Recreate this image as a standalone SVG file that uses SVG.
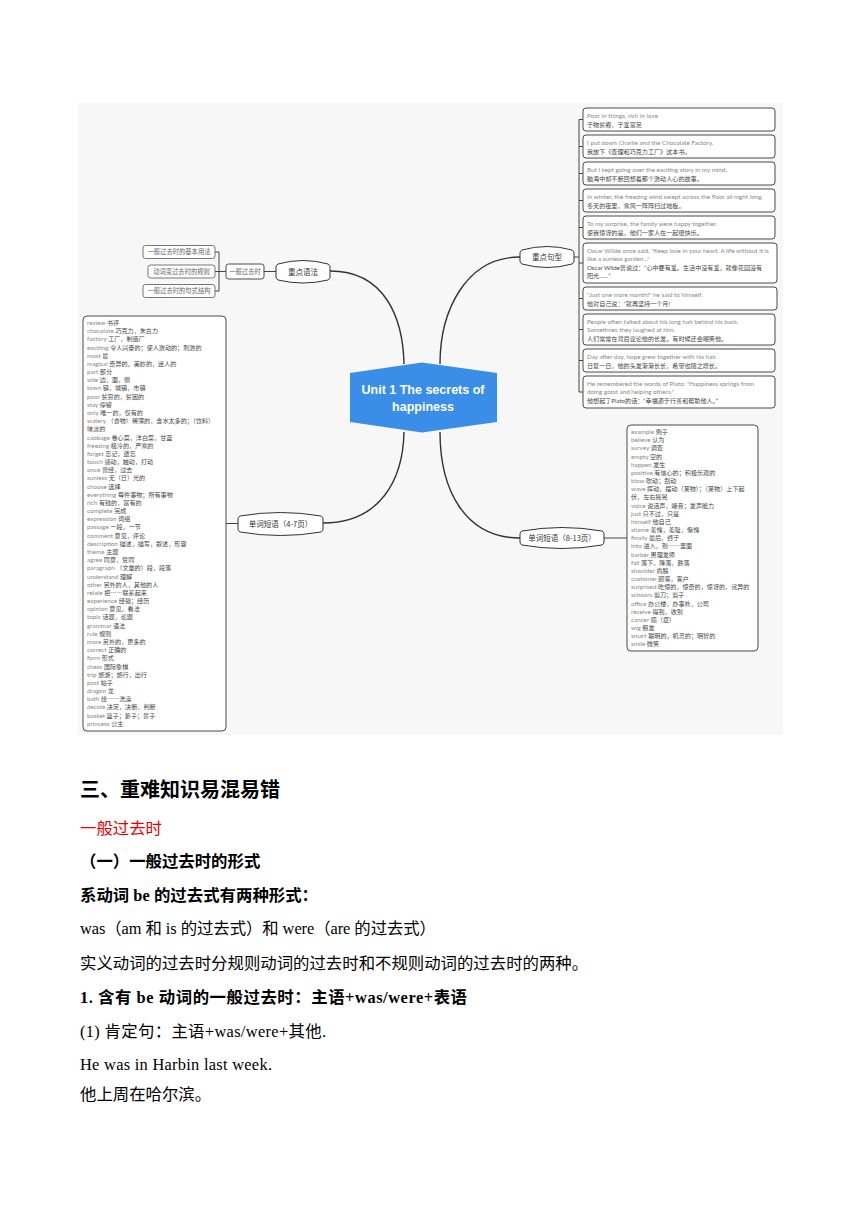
<svg xmlns="http://www.w3.org/2000/svg" width="860" height="1216" viewBox="0 0 860 1216">
<style>
.bg{fill:#f7f7f7}
.box{fill:#fff;stroke:#4a4a4a;stroke-width:1}
.sbox{fill:#fff;stroke:#666;stroke-width:0.9}
.lens{fill:#fff;stroke:#333;stroke-width:1}
.curve{fill:none;stroke:#333;stroke-width:1.4}
.br{fill:none;stroke:#444;stroke-width:1}
.en{font-family:Lato,"Noto Sans","Noto Sans CJK SC",sans-serif;font-size:6.3px;fill:#888}
.zh{font-family:Lato,"Noto Sans CJK SC",sans-serif;font-size:6.1px;fill:#444}
.z{font-family:"Noto Sans CJK SC",sans-serif;font-size:6.1px;fill:#444}
.lt{font-family:"Noto Sans CJK SC",sans-serif;font-size:7.5px;fill:#333;text-anchor:middle}
.st{font-family:"Noto Sans CJK SC",sans-serif;font-size:6.3px;fill:#666;text-anchor:middle}
.ct{font-family:"Liberation Sans",Arial,sans-serif;font-size:12.5px;font-weight:bold;fill:#fff;text-anchor:middle}
.doc{font-family:"Liberation Serif","Noto Sans CJK SC",serif;font-size:16.4px;fill:#000}
.b{font-weight:bold}
.h{font-size:20px}
.red{fill:#e60000}
</style>
<rect class="bg" x="78" y="103" width="705" height="632"/>
<g id="connectors">
<path class="curve" d="M330,271 C385,271 403,318 404,364"/>
<path class="curve" d="M520,257 C465,257 440,312 440,364"/>
<path class="curve" d="M323,523 C380,523 403,480 404,432"/>
<path class="curve" d="M520,538 C465,538 440,490 440,432"/>
<path class="br" d="M264,271.5 L276,271.5"/>
<path class="br" d="M226,271.5 L219,271.5 M219,252 L219,291 M215,252 L219,252 M215,271.5 L219,271.5 M215,291 L219,291"/>
<path class="br" d="M574,257 L579,257 M579,119.5 L579,392 M579,119.5 L583,119.5 M579,146.5 L583,146.5 M579,173.5 L583,173.5 M579,200.5 L583,200.5 M579,227.5 L583,227.5 M579,263 L583,263 M579,298.5 L583,298.5 M579,329.5 L583,329.5 M579,360.5 L583,360.5 M579,392 L583,392"/>
<path class="br" d="M226,523.5 L238,523.5"/>
<path class="br" d="M604,538 L627,538"/>
</g>
<g id="center">
<path d="M350,373 L422,362.5 L497,373 L497,422 L422,432.5 L350,422 Z" fill="#3a8ee8"/>
<text class="ct" x="423" y="393.5">Unit 1 The secrets of</text>
<text class="ct" x="423" y="410.5">happiness</text>
</g>
<g id="node-grammar">
<path class="lens" d="M278,264 Q303,257 328,264 Q330,265 330,267 L330,277 Q330,279 328,280 Q303,286 278,280 Q276,279 276,277 L276,267 Q276,265 278,264 Z"/>
<text class="lt" x="303" y="274.5">重点语法</text>
</g>
<g id="node-past">
<rect class="box" x="226" y="264" width="38" height="15" rx="2.5"/>
<text class="st" x="245" y="273.8">一般过去时</text>
</g>
<g id="node-g1">
<rect class="sbox" x="143" y="245.5" width="72" height="13" rx="2.5"/>
<text class="st" x="179" y="254.3">一般过去时的基本用法</text>
</g>
<g id="node-g2">
<rect class="sbox" x="148" y="265" width="67" height="13" rx="2.5"/>
<text class="st" x="181.5" y="273.8">动词变过去时的规则</text>
</g>
<g id="node-g3">
<rect class="sbox" x="143" y="284.5" width="72" height="13" rx="2.5"/>
<text class="st" x="179" y="293.3">一般过去时的句式结构</text>
</g>
<g id="node-sentences">
<path class="lens" d="M522,250 Q547,243 572,250 Q574,251 574,253 L574,261 Q574,263 572,264 Q547,271 522,264 Q520,263 520,261 L520,253 Q520,251 522,250 Z"/>
<text class="lt" x="547" y="260">重点句型</text>
</g>
<g id="s1"><rect class="box" x="583" y="108" width="192" height="23" rx="3"/><text class="en" x="587" y="118">Poor in things, rich in love</text><text class="zh" x="587" y="126.5">于物贫瘠，于爱富足</text></g>
<g id="s2"><rect class="box" x="583" y="135" width="192" height="23" rx="3"/><text class="en" x="587" y="145">I put down Charlie and the Chocolate Factory.</text><text class="zh" x="587" y="153.5">我放下《查理和巧克力工厂》这本书。</text></g>
<g id="s3"><rect class="box" x="583" y="162" width="192" height="23" rx="3"/><text class="en" x="587" y="172">But I kept going over the exciting story in my mind.</text><text class="zh" x="587" y="180.5">脑海中却不断回想着那个激动人心的故事。</text></g>
<g id="s4"><rect class="box" x="583" y="189" width="192" height="23" rx="3"/><text class="en" x="587" y="199">In winter, the freezing wind swept across the floor all night long.</text><text class="zh" x="587" y="207.5">冬天的夜里，寒风一阵阵扫过地板。</text></g>
<g id="s5"><rect class="box" x="583" y="216" width="192" height="23" rx="3"/><text class="en" x="587" y="226">To my surprise, the family were happy together.</text><text class="zh" x="587" y="234.5">使我惊讶的是，他们一家人在一起很快乐。</text></g>
<g id="s6"><rect class="box" x="583" y="243" width="194" height="40" rx="3"/><text class="en" x="587" y="253">Oscar Wilde once said, "Keep love in your heart. A life without it is</text><text class="en" x="587" y="261">like a sunless garden..."</text><text class="zh" x="587" y="270">Oscar Wilde曾说过：“心中要有爱。生活中没有爱，就像花园没有</text><text class="zh" x="587" y="278">阳光……”</text></g>
<g id="s7"><rect class="box" x="583" y="287" width="194" height="23" rx="3"/><text class="en" x="587" y="297">"Just one more month!" he said to himself.</text><text class="zh" x="587" y="305.5">他对自己说：“就再坚持一个月!</text></g>
<g id="s8"><rect class="box" x="583" y="314" width="192" height="31" rx="3"/><text class="en" x="587" y="324">People often talked about his long hair behind his back.</text><text class="en" x="587" y="332">Sometimes they laughed at him.</text><text class="zh" x="587" y="341">人们常常在背后议论他的长发。有时候还会嘲笑他。</text></g>
<g id="s9"><rect class="box" x="583" y="349" width="192" height="23" rx="3"/><text class="en" x="587" y="359">Day after day, hope grew together with his hair.</text><text class="zh" x="587" y="367.5">日复一日，他的头发渐渐长长，希望也随之增长。</text></g>
<g id="s10"><rect class="box" x="583" y="376" width="192" height="32" rx="3"/><text class="en" x="587" y="386">He remembered the words of Plato: "Happiness springs from</text><text class="en" x="587" y="394">doing good and helping others."</text><text class="zh" x="587" y="403">他想起了Plato的话：“幸福源于行善和帮助他人。”</text></g>
<g id="node-words47">
<path class="lens" d="M240,516 Q280.5,509 321,516 Q323,517 323,519 L323,529 Q323,531 321,532 Q280.5,539 240,532 Q238,531 238,529 L238,519 Q238,517 240,516 Z"/>
<text class="lt" x="280.5" y="526.5">单词短语（4-7页）</text>
</g>
<g id="list47">
<rect class="box" x="83" y="316" width="143" height="415" rx="4"/>
<text class="en" x="87" y="325"><tspan x="87" dy="0">review </tspan><tspan class="z">书评</tspan><tspan x="87" dy="8.18">chocolate </tspan><tspan class="z">巧克力，朱古力</tspan><tspan x="87" dy="8.18">factory </tspan><tspan class="z">工厂，制造厂</tspan><tspan x="87" dy="8.18">exciting </tspan><tspan class="z">令人兴奋的；使人激动的；刺激的</tspan><tspan x="87" dy="8.18">most </tspan><tspan class="z">最</tspan><tspan x="87" dy="8.18">magical </tspan><tspan class="z">奇异的，美妙的，迷人的</tspan><tspan x="87" dy="8.18">part </tspan><tspan class="z">部分</tspan><tspan x="87" dy="8.18">side </tspan><tspan class="z">边，面，侧</tspan><tspan x="87" dy="8.18">town </tspan><tspan class="z">镇，城镇，市镇</tspan><tspan x="87" dy="8.18">poor </tspan><tspan class="z">贫穷的，贫困的</tspan><tspan x="87" dy="8.18">stay </tspan><tspan class="z">停留</tspan><tspan x="87" dy="8.18">only </tspan><tspan class="z">唯一的，仅有的</tspan><tspan x="87" dy="8.18">watery </tspan><tspan class="z">（食物）稀薄的，含水太多的；（饮料）</tspan><tspan class="z" x="87" dy="8.18">味淡的</tspan><tspan x="87" dy="8.18">cabbage </tspan><tspan class="z">卷心菜，洋白菜，甘蓝</tspan><tspan x="87" dy="8.18">freezing </tspan><tspan class="z">极冷的，严寒的</tspan><tspan x="87" dy="8.18">forget </tspan><tspan class="z">忘记，遗忘</tspan><tspan x="87" dy="8.18">touch </tspan><tspan class="z">感动，触动，打动</tspan><tspan x="87" dy="8.18">once </tspan><tspan class="z">曾经，过去</tspan><tspan x="87" dy="8.18">sunless </tspan><tspan class="z">无（日）光的</tspan><tspan x="87" dy="8.18">choose </tspan><tspan class="z">选择</tspan><tspan x="87" dy="8.18">everything </tspan><tspan class="z">每件事物；所有事物</tspan><tspan x="87" dy="8.18">rich </tspan><tspan class="z">有钱的，富有的</tspan><tspan x="87" dy="8.18">complete </tspan><tspan class="z">完成</tspan><tspan x="87" dy="8.18">expression </tspan><tspan class="z">词组</tspan><tspan x="87" dy="8.18">passage </tspan><tspan class="z">一段，一节</tspan><tspan x="87" dy="8.18">comment </tspan><tspan class="z">意见，评论</tspan><tspan x="87" dy="8.18">description </tspan><tspan class="z">描述，描写，叙述，形容</tspan><tspan x="87" dy="8.18">theme </tspan><tspan class="z">主题</tspan><tspan x="87" dy="8.18">agree </tspan><tspan class="z">同意，赞同</tspan><tspan x="87" dy="8.18">paragraph </tspan><tspan class="z">（文章的）段，段落</tspan><tspan x="87" dy="8.18">understand </tspan><tspan class="z">理解</tspan><tspan x="87" dy="8.18">other </tspan><tspan class="z">另外的人，其他的人</tspan><tspan x="87" dy="8.18">relate </tspan><tspan class="z">把……联系起来</tspan><tspan x="87" dy="8.18">experience </tspan><tspan class="z">经验；经历</tspan><tspan x="87" dy="8.18">opinion </tspan><tspan class="z">意见，看法</tspan><tspan x="87" dy="8.18">topic </tspan><tspan class="z">话题，论题</tspan><tspan x="87" dy="8.18">grammar </tspan><tspan class="z">语法</tspan><tspan x="87" dy="8.18">rule </tspan><tspan class="z">规则</tspan><tspan x="87" dy="8.18">more </tspan><tspan class="z">另外的，更多的</tspan><tspan x="87" dy="8.18">correct </tspan><tspan class="z">正确的</tspan><tspan x="87" dy="8.18">form </tspan><tspan class="z">形式</tspan><tspan x="87" dy="8.18">chess </tspan><tspan class="z">国际象棋</tspan><tspan x="87" dy="8.18">trip </tspan><tspan class="z">旅游；旅行，出行</tspan><tspan x="87" dy="8.18">post </tspan><tspan class="z">帖子</tspan><tspan x="87" dy="8.18">dragon </tspan><tspan class="z">龙</tspan><tspan x="87" dy="8.18">bath </tspan><tspan class="z">给……洗澡</tspan><tspan x="87" dy="8.18">decide </tspan><tspan class="z">决定，决断，判断</tspan><tspan x="87" dy="8.18">basket </tspan><tspan class="z">篮子；篓子；筐子</tspan><tspan x="87" dy="8.18">princess </tspan><tspan class="z">公主</tspan></text>
</g>
<g id="node-words813">
<path class="lens" d="M522,531 Q562,524 602,531 Q604,532 604,534 L604,542 Q604,544 602,545 Q562,552 522,545 Q520,544 520,542 L520,534 Q520,532 522,531 Z"/>
<text class="lt" x="562" y="541">单词短语（8-13页）</text>
</g>
<g id="list813">
<rect class="box" x="627" y="425" width="131" height="226" rx="4"/>
<text class="en" x="631" y="434"><tspan x="631" dy="0">example </tspan><tspan class="z">例子</tspan><tspan x="631" dy="8.17">believe </tspan><tspan class="z">认为</tspan><tspan x="631" dy="8.17">survey </tspan><tspan class="z">调查</tspan><tspan x="631" dy="8.17">empty </tspan><tspan class="z">空的</tspan><tspan x="631" dy="8.17">happen </tspan><tspan class="z">发生</tspan><tspan x="631" dy="8.17">positive </tspan><tspan class="z">有信心的；积极乐观的</tspan><tspan x="631" dy="8.17">blow </tspan><tspan class="z">吹动；刮动</tspan><tspan x="631" dy="8.17">wave </tspan><tspan class="z">挥动，摆动（某物）；（某物）上下起</tspan><tspan class="z" x="631" dy="8.17">伏，左右摇晃</tspan><tspan x="631" dy="8.17">voice </tspan><tspan class="z">说话声，嗓音；发声能力</tspan><tspan x="631" dy="8.17">just </tspan><tspan class="z">只不过，只是</tspan><tspan x="631" dy="8.17">himself </tspan><tspan class="z">他自己</tspan><tspan x="631" dy="8.17">shame </tspan><tspan class="z">羞愧，羞耻，惭愧</tspan><tspan x="631" dy="8.17">finally </tspan><tspan class="z">最后，终于</tspan><tspan x="631" dy="8.17">into </tspan><tspan class="z">进入，到……里面</tspan><tspan x="631" dy="8.17">barber </tspan><tspan class="z">男理发师</tspan><tspan x="631" dy="8.17">fall </tspan><tspan class="z">落下，降落，跌落</tspan><tspan x="631" dy="8.17">shoulder </tspan><tspan class="z">肩膀</tspan><tspan x="631" dy="8.17">customer </tspan><tspan class="z">顾客，客户</tspan><tspan x="631" dy="8.17">surprised </tspan><tspan class="z">吃惊的，惊奇的，惊讶的，诧异的</tspan><tspan x="631" dy="8.17">scissors </tspan><tspan class="z">剪刀；剪子</tspan><tspan x="631" dy="8.17">office </tspan><tspan class="z">办公楼，办事处，公司</tspan><tspan x="631" dy="8.17">receive </tspan><tspan class="z">得到，收到</tspan><tspan x="631" dy="8.17">cancer </tspan><tspan class="z">癌（症）</tspan><tspan x="631" dy="8.17">wig </tspan><tspan class="z">假发</tspan><tspan x="631" dy="8.17">smart </tspan><tspan class="z">聪明的，机灵的；明智的</tspan><tspan x="631" dy="8.17">smile </tspan><tspan class="z">微笑</tspan></text>
</g>
<g id="document">
<text class="doc b h" x="80" y="797">三、重难知识易混易错</text>
<text class="doc red" x="80" y="834">一般过去时</text>
<text class="doc b" x="80" y="867">（一）一般过去时的形式</text>
<text class="doc b" x="80" y="901" textLength="238" lengthAdjust="spacing">系动词 be 的过去式有两种形式：</text>
<text class="doc" x="80" y="934" textLength="356" lengthAdjust="spacing">was（am 和 is 的过去式）和 were（are 的过去式）</text>
<text class="doc" x="80" y="969">实义动词的过去时分规则动词的过去时和不规则动词的过去时的两种。</text>
<text class="doc b" x="80" y="1003" textLength="387" lengthAdjust="spacing">1. 含有 be 动词的一般过去时：主语+was/were+表语</text>
<text class="doc" x="80" y="1037" textLength="246" lengthAdjust="spacing">(1) 肯定句：主语+was/were+其他.</text>
<text class="doc" x="80" y="1070" textLength="192" lengthAdjust="spacing">He was in Harbin last week.</text>
<text class="doc" x="80" y="1100">他上周在哈尔滨。</text>
</g>
</svg>
